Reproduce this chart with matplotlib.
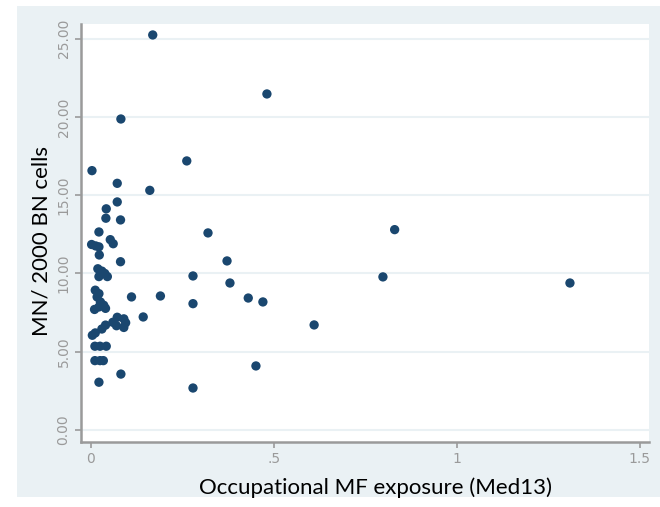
import matplotlib
matplotlib.use('Agg')
import matplotlib.pyplot as plt
from matplotlib.patches import Rectangle

# exposure (x) and MN per 2000 BN cells (y)
exposure = [0.169, 0.481, 0.082, 0.262, 0.003, 0.072, 0.161, 0.072, 0.042, 0.041,
            0.081, 0.320, 0.022, 0.053, 0.061, 0.002, 0.013, 0.022, 0.023, 0.081,
            0.372, 0.019, 0.030, 0.038, 0.022, 0.045, 0.279, 0.380, 0.798, 1.309,
            0.830, 0.012, 0.022, 0.017, 0.026, 0.035, 0.040, 0.022, 0.010, 0.111,
            0.190, 0.279, 0.430, 0.470, 0.143, 0.610, 0.451, 0.279, 0.082, 0.022,
            0.072, 0.090, 0.095, 0.060, 0.070, 0.040, 0.030, 0.012, 0.004, 0.090,
            0.011, 0.025, 0.042, 0.011, 0.025, 0.034]
mn_cells = [25.24, 21.47, 19.87, 17.19, 16.57, 15.76, 15.31, 14.57, 14.13, 13.53,
            13.42, 12.59, 12.65, 12.16, 11.90, 11.85, 11.76, 11.70, 11.18, 10.75,
            10.80, 10.30, 10.15, 10.00, 9.80, 9.80, 9.84, 9.39, 9.78, 9.39,
            12.80, 8.93, 8.71, 8.50, 8.18, 7.97, 7.77, 7.86, 7.70, 8.50,
            8.56, 8.07, 8.43, 8.18, 7.22, 6.71, 4.09, 2.68, 3.57, 3.05,
            7.20, 7.10, 6.85, 6.88, 6.66, 6.70, 6.45, 6.20, 6.05, 6.55,
            5.35, 5.35, 5.35, 4.43, 4.43, 4.43]

x_ticks = [0, 0.5, 1, 1.5]
x_tick_labels = ['0', '.5', '1', '1.5']
y_ticks = [0, 5, 10, 15, 20, 25]

BG = '#eaf1f4'
GRAY = '#9a9a9a'
LABEL_FONT = ['Lato', 'DejaVu Sans']

fig = plt.figure(figsize=(6.6, 5.07), dpi=100, facecolor='white')
# light bluish graph region behind the white plot region
fig.patches.append(Rectangle((17 / 660, 1 - 497 / 507), 643 / 660, 491 / 507,
                             transform=fig.transFigure, facecolor=BG,
                             edgecolor='none', zorder=-10))

ax = fig.add_axes([81 / 660, 1 - 442 / 507, 568 / 660, 418 / 507])
ax.set_facecolor('white')
ax.scatter(exposure, mn_cells, s=45, color='#1a476f', edgecolors='none', zorder=3)

ax.set_xlim(-0.027, 1.525)
ax.set_ylim(-0.77, 25.94)
ax.set_xticks(x_ticks)
ax.set_xticklabels(x_tick_labels)
ax.set_yticks(y_ticks)
ax.set_yticklabels(['%.2f' % v for v in y_ticks], rotation=90, va='center')

ax.yaxis.grid(True, color=BG, linewidth=1.5)
ax.set_axisbelow(True)
for side in ['top', 'right']:
    ax.spines[side].set_visible(False)
for side in ['left', 'bottom']:
    ax.spines[side].set_color(GRAY)
    ax.spines[side].set_linewidth(1.8)
ax.tick_params(colors=GRAY, labelsize=10, length=4, width=1.2)

ax.set_xlabel('Occupational MF exposure (Med13)', fontsize=16,
              family=LABEL_FONT, va='center')
ax.xaxis.set_label_coords(0.519, -0.110)
ax.set_ylabel('MN/ 2000 BN cells', fontsize=16, family=LABEL_FONT, va='center')
ax.yaxis.set_label_coords(-0.069, 0.481)

plt.savefig('out.png', dpi=100, facecolor='white')
plt.close()
